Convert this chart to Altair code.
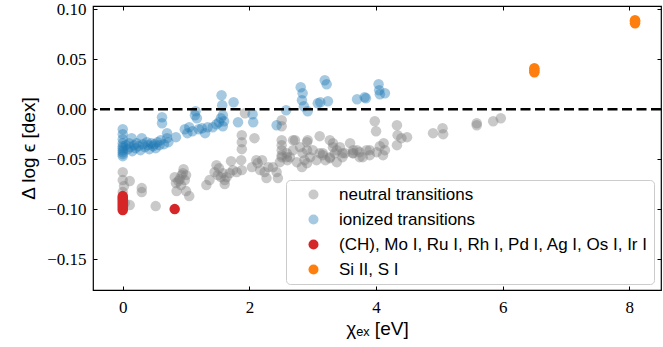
import altair as alt
import pandas as pd

# ---------------- data ----------------
groups = ["neutral transitions", "ionized transitions",
          "(CH), Mo I, Ru I, Rh I, Pd I, Ag I, Os I, Ir I", "Si II, S I"]

neutral_x = [0, 0, 0.02, 0.11, 0, 0.03, 0.11, 0, 0.3, 0.3, 0.52,
             0.82, 0.84, 0.85, 0.88, 0.9, 0.93, 0.95, 1.0, 0.98, 1.0, 1.05, 0.92, 0.96,
             1.32, 1.37, 1.45, 1.48, 1.52, 1.58, 1.61, 1.64, 1.69, 1.74, 1.8, 1.88, 1.61, 1.55, 1.5,
             2.04, 2.13, 2.2, 2.17, 2.24, 2.27, 2.3, 2.43, 2.48, 2.51, 2.59, 2.64, 2.75, 2.83, 2.91,
             2.96, 3.06, 3.16, 3.27, 3.38, 3.47, 3.63, 3.74, 3.9, 4.01, 4.11,
             1.88, 1.88, 2.08, 1.93, 2.11, 2.51, 2.51, 2.51, 2.51, 2.51, 2.51, 2.59, 2.6, 2.72,
             2.8, 2.84, 2.92, 3.0, 3.11, 3.16, 3.27, 3.32, 3.38, 3.47, 3.59, 3.64, 3.7, 3.79,
             3.9, 3.98, 4.0, 4.06, 4.14,
             2.69, 2.69, 2.91, 2.91, 2.87, 3.11, 3.27, 3.32, 3.2, 3.43, 3.35, 3.51, 3.64, 3.74,
             3.85, 4.12, 4.33, 4.34, 4.4, 4.49, 4.33, 4.9, 5.05, 5.06, 5.59, 5.59, 5.85, 5.97,
             1.88, 1.71, 1.87, 2.37, 2.45]
neutral_y = [-0.063, -0.071, -0.077, -0.072, -0.089, -0.094, -0.096, -0.083, -0.079, -0.083, -0.097,
             -0.068, -0.074, -0.082, -0.072, -0.070, -0.066, -0.064, -0.066, -0.071, -0.082, -0.087, -0.076, -0.060,
             -0.076, -0.071, -0.063, -0.056, -0.059, -0.064, -0.071, -0.068, -0.064, -0.061, -0.063, -0.061, -0.075, -0.068, -0.066,
             -0.058, -0.054, -0.051, -0.061, -0.063, -0.069, -0.058, -0.063, -0.053, -0.048, -0.044, -0.048, -0.053, -0.058, -0.054,
             -0.048, -0.051, -0.046, -0.049, -0.053, -0.048, -0.044, -0.048, -0.046, -0.043, -0.046,
             -0.026, -0.033, -0.029, -0.004, -0.051, -0.011, -0.017, -0.031, -0.036, -0.041, -0.046, -0.048, -0.051, -0.031,
             -0.038, -0.044, -0.031, -0.041, -0.027, -0.044, -0.048, -0.034, -0.041, -0.044, -0.034, -0.044, -0.041, -0.048,
             -0.041, -0.012, -0.022, -0.037, -0.041,
             -0.031, -0.041, -0.033, -0.041, -0.051, -0.044, -0.031, -0.038, -0.051, -0.038, -0.044, -0.044, -0.041, -0.043,
             -0.041, -0.034, -0.016, -0.026, -0.029, -0.028, -0.036, -0.024, -0.019, -0.025, -0.014, -0.016, -0.012, -0.009,
             -0.040, -0.052, -0.051, -0.058, -0.069]

ionized_x = [0, 0, 0, 0, 0, 0, 0, 0, 0, 0,
             0.05, 0.08, 0.1, 0.12, 0.14, 0.15, 0.18, 0.2, 0.22, 0.25, 0.28, 0.3, 0.32, 0.35,
             0.38, 0.4, 0.42, 0.45, 0.48, 0.5, 0.52, 0.55, 0.58, 0.6, 0.65, 0.7, 0.72,
             0.62, 0.62, 0.7, 0.84,
             0.98, 1.02, 1.05, 1.1, 1.14, 1.15, 1.17, 1.2, 1.25, 1.3, 1.34, 1.42, 1.48, 1.52,
             1.55, 1.56, 1.57, 1.58, 1.58, 1.6, 1.75, 1.82, 2.05, 2.06, 2.43, 2.58, 2.81, 2.84,
             2.83, 2.86, 2.92, 3.08, 3.12, 3.19, 3.22, 3.24, 3.7, 3.82, 3.84, 4.04, 4.05, 4.06, 4.14]
ionized_y = [-0.020, -0.025, -0.030, -0.034, -0.037, -0.039, -0.041, -0.043, -0.045, -0.047,
             -0.036, -0.040, -0.034, -0.038, -0.029, -0.042, -0.036, -0.039, -0.034, -0.037, -0.041, -0.029, -0.035, -0.038,
             -0.033, -0.036, -0.040, -0.034, -0.037, -0.035, -0.039, -0.033, -0.036, -0.031, -0.035, -0.029, -0.033,
             -0.008, -0.014, -0.024, -0.028,
             -0.020, -0.024, -0.018, -0.022, -0.006, -0.002, -0.009, -0.020, -0.019, -0.024, -0.018, -0.018, -0.015, -0.013,
             -0.009, 0.014, 0.004, -0.006, -0.017, -0.012, 0.007, -0.013, -0.005, -0.013, -0.016, -0.001, 0.022, 0.016,
             0.009, 0.003, -0.002, 0.006, 0.007, 0.029, 0.025, 0.008, 0.010, 0.012, 0.011, 0.025, 0.019, 0.015, 0.016]

special_x = [0, 0, 0, 0, 0, 0, 0, 0, 0.82]
special_y = [-0.087, -0.089, -0.091, -0.093, -0.095, -0.097, -0.099, -0.101, -0.100]

sis_x = [6.5, 6.5, 6.5, 8.09, 8.09, 8.09]
sis_y = [0.037, 0.039, 0.041, 0.086, 0.088, 0.089]

x_ticks = [0, 2, 4, 6, 8]
y_ticks = [-0.15, -0.10, -0.05, 0.00, 0.05, 0.10]

colors = ["#7f7f7f", "#1f77b4", "#d62728", "#ff7f0e"]
legend_colors = ["#c9c9c9", "#a5c9e1", "#d62728", "#ff7f0e"]
opacities = [0.42, 0.4, 1.0, 1.0]

rows = []
for g, op, xs, ys in zip(groups, opacities, [neutral_x, ionized_x, special_x, sis_x],
                         [neutral_y, ionized_y, special_y, sis_y]):
    for xv, yv in zip(xs, ys):
        rows.append({"chi": xv, "dlog": yv, "group": g, "alpha": op})
df = pd.DataFrame(rows)
df["order"] = range(len(df))
zero_df = pd.DataFrame({"y": [0.0]})
legend_df = pd.DataFrame({"group": groups})

xscale = alt.Scale(domain=[-0.47, 8.5], nice=False, zero=False)
yscale = alt.Scale(domain=[-0.181, 0.1033], nice=False, zero=False)

SERIF = "Liberation Serif"
SANS = "Liberation Sans"

leg = alt.Legend(orient="none", legendX=193, legendY=174, title=None,
                 fillColor="rgba(255,255,255,0.85)", strokeColor="#cccccc",
                 cornerRadius=4, padding=6, symbolSize=100, symbolType="circle",
                 symbolStrokeWidth=0, symbolOpacity=1, labelFont=SANS, labelFontSize=17,
                 labelColor="black", symbolOffset=13, labelOffset=17, rowPadding=7,
                 labelLimit=500)

points = alt.Chart(df).mark_circle(size=110, strokeWidth=0).encode(
    x=alt.X("chi:Q", scale=xscale,
            axis=alt.Axis(values=x_ticks, format="d", ticks=False, domain=False,
                          labelPadding=9, title="χₑₓ [eV]", titlePadding=4,
                          orient="bottom", labelFont=SERIF, labelFontSize=17,
                          titleFont=SANS, titleFontSize=19)),
    y=alt.Y("dlog:Q", scale=yscale,
            axis=alt.Axis(values=y_ticks, format=".2f", ticks=False, domain=False,
                          labelPadding=7, title="Δ log ϵ [dex]", titlePadding=8,
                          orient="left", labelFont=SERIF, labelFontSize=17,
                          titleFont=SANS, titleFontSize=19)),
    color=alt.Color("group:N", scale=alt.Scale(domain=groups, range=colors), legend=None),
    opacity=alt.Opacity("alpha:Q", scale=None),
    order=alt.Order("order:Q"),
)

legend_layer = alt.Chart(legend_df).mark_circle(size=0, opacity=1).encode(
    x=alt.value(-100), y=alt.value(-100),
    color=alt.Color("legend_group:N", scale=alt.Scale(domain=groups, range=legend_colors),
                    legend=leg),
).transform_calculate(legend_group="datum.group")

tick_bl = alt.Chart(df).mark_point(opacity=0).encode(
    x=alt.X("chi:Q", scale=xscale,
            axis=alt.Axis(values=x_ticks, labels=False, domain=False, tickSize=4,
                          offset=-4, title=None, orient="bottom", tickColor="black")),
    y=alt.Y("dlog:Q", scale=yscale,
            axis=alt.Axis(values=y_ticks, labels=False, domain=False, tickSize=4,
                          offset=-4, title=None, orient="left", tickColor="black")),
)
tick_tr = alt.Chart(df).mark_point(opacity=0).encode(
    x=alt.X("chi:Q", scale=xscale,
            axis=alt.Axis(values=x_ticks, labels=False, domain=False, tickSize=4,
                          offset=-4, title=None, orient="top", tickColor="black")),
    y=alt.Y("dlog:Q", scale=yscale,
            axis=alt.Axis(values=y_ticks, labels=False, domain=False, tickSize=4,
                          offset=-4, title=None, orient="right", tickColor="black")),
)

zero_line = alt.Chart(zero_df).mark_rule(color="black", strokeWidth=2.5,
                                         strokeDash=[10, 4.5]).encode(
    y=alt.Y("y:Q", scale=yscale, axis=None)
)

chart = alt.layer(points, zero_line, tick_bl, tick_tr, legend_layer).resolve_axis(
    x="independent", y="independent"
).resolve_scale(color="independent").properties(
    width=568, height=284, autosize="none",
    padding={"left": 93, "top": 6, "right": 2, "bottom": 57},
).configure_view(
    stroke="black", strokeWidth=1.2
).configure_axis(
    labelColor="black", titleFontWeight="normal", titleColor="black", grid=False
)

chart.save("out.html", embed_options={"renderer": "svg", "actions": False})
